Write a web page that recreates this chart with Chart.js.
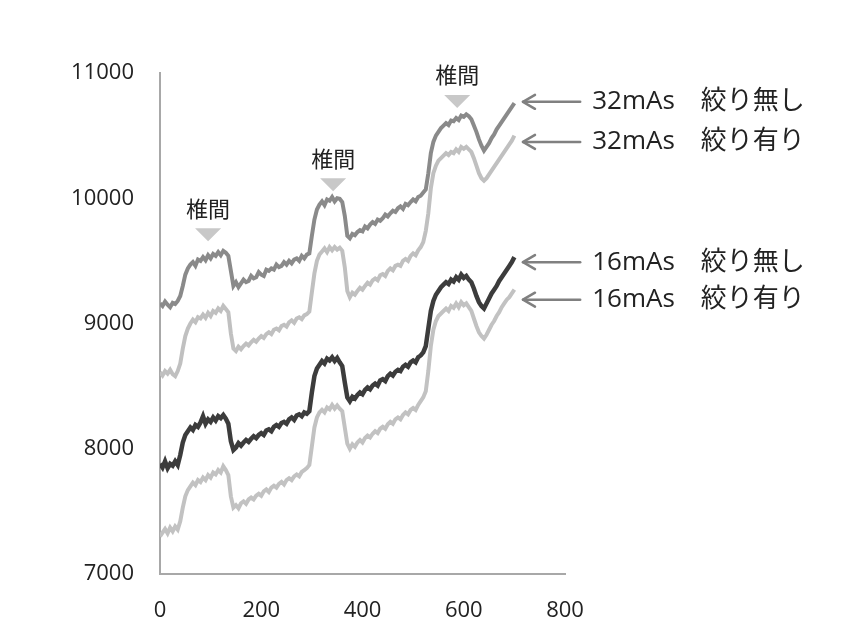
<!DOCTYPE html>
<html><head><meta charset="utf-8">
<script src="https://cdn.jsdelivr.net/npm/chart.js@4.4.0/dist/chart.umd.min.js"></script>
<style>html,body{margin:0;padding:0;background:#fff;}#wrap{width:848px;height:622px;}</style>
</head><body><div id="wrap"><canvas id="c" width="848" height="622"></canvas></div>
<script>
const xStart = 0, xStep = 5;
const s32open = [9160,9140,9175,9150,9130,9165,9155,9180,9220, 9300,9390,9440,9470,9490, 9460,9510,9500,9530,9505,9545,9520,9555,9540,9570,9545,9580,9565,9540, 9420,9300, 9330,9290,9320,9350,9330,9340,9380,9360,9370,9410,9390,9380,9430,9420,9440,9430,9470,9450,9460,9490,9470,9500,9480,9510,9520,9500,9540,9520,9550,9560, 9700,9830,9910,9950,9975,9945,9990,9980,10010,9975,10000,9995,9970, 9860,9700, 9680,9715,9705,9730,9745,9735,9775,9760,9790,9810,9795,9830,9820,9840,9870,9855,9880,9900,9890,9920,9935,9915,9955,9945,9970,9990,9975,10010,10020,10045,10070, 10200,10360,10450,10500,10530,10560,10580, 10600,10585,10620,10615,10640,10625,10660,10650,10670,10655,10630, 10580,10530,10470,10420,10380, 10410,10440,10480,10510,10550,10580,10610,10640,10670,10700,10730,10760];
const s32coll = [8610,8585,8620,8600,8630,8595,8580,8620,8680, 8800,8900,8960,9000,9030, 9010,9050,9040,9070,9045,9085,9060,9100,9085,9120,9100,9140,9115,9090, 8920,8800, 8780,8815,8795,8820,8840,8825,8850,8870,8855,8880,8900,8885,8915,8930,8915,8950,8960,8945,8980,8990,8975,9010,9025,9005,9040,9050,9035,9065,9075,9095, 9250,9400,9500,9550,9575,9600,9570,9610,9585,9610,9590,9605,9580, 9450,9260, 9210,9245,9230,9260,9285,9270,9300,9325,9310,9345,9360,9345,9385,9395,9380,9420,9440,9425,9460,9470,9460,9500,9515,9500,9540,9560,9545,9585,9610,9650,9740, 9880,10080,10200,10260,10300,10320,10340, 10360,10345,10370,10360,10390,10370,10410,10395,10410,10390,10370, 10320,10260,10200,10160,10140, 10160,10190,10220,10250,10280,10310,10340,10370,10400,10430,10460,10500];
const s16open = [7880,7850,7900,7845,7880,7865,7900,7870,7950, 8050,8110,8140,8170,8150, 8190,8175,8210,8260,8200,8235,8215,8250,8225,8260,8245,8270,8240,8200, 8060,7990, 8010,8045,8025,8050,8070,8055,8080,8100,8085,8110,8125,8110,8145,8155,8140,8175,8190,8175,8205,8215,8200,8235,8250,8230,8265,8275,8260,8290,8280,8300, 8450,8580,8640,8670,8700,8680,8720,8705,8730,8700,8725,8690,8660, 8530,8410, 8380,8415,8400,8430,8450,8435,8470,8490,8475,8505,8520,8505,8545,8555,8540,8580,8600,8585,8615,8630,8620,8655,8670,8655,8690,8705,8690,8730,8745,8770,8820, 8960,9100,9180,9230,9260,9290,9310, 9330,9315,9350,9335,9370,9350,9390,9365,9380,9350,9330, 9280,9220,9170,9140,9120, 9160,9200,9240,9270,9300,9340,9370,9400,9430,9460,9490,9530];
const s16coll = [7300,7330,7360,7325,7370,7340,7380,7355,7420, 7530,7620,7670,7700,7730, 7710,7750,7735,7770,7750,7790,7770,7810,7795,7830,7810,7860,7830,7790, 7620,7530, 7550,7525,7565,7580,7560,7595,7610,7595,7625,7640,7625,7660,7675,7655,7690,7705,7690,7720,7735,7715,7750,7765,7750,7780,7795,7780,7815,7830,7845,7870, 8020,8170,8250,8290,8310,8290,8330,8315,8350,8320,8345,8320,8300, 8170,8040, 8000,8035,8015,8050,8070,8050,8085,8105,8090,8120,8140,8125,8160,8175,8160,8195,8215,8200,8235,8250,8235,8270,8290,8275,8310,8325,8310,8350,8380,8410,8460, 8620,8820,8950,9020,9060,9080,9100, 9120,9100,9140,9125,9160,9130,9170,9145,9160,9130,9100, 9040,8980,8930,8900,8880, 8910,8950,8990,9020,9060,9090,9130,9160,9190,9210,9240,9270];
const seriesNames = ['32mAs\u3000絞り無し','32mAs\u3000絞り有り','16mAs\u3000絞り無し','16mAs\u3000絞り有り'];
const labelYs = [10770, 10450, 9490, 9190];
const annText = '椎間';
const annX = [95, 342, 587];
const annY = [9760, 10160, 10825];
const xTicks = [0, 200, 400, 600, 800];
const yTicks = [7000, 8000, 9000, 10000, 11000];

function pts(arr){ return arr.map((v,i)=>({x:xStart+i*xStep, y:v})); }

const FONT = '"Open Sans", "Noto Sans CJK JP", sans-serif';

const overlay = {
  id:'overlay',
  afterDatasetsDraw(chart){
    const ctx = chart.ctx, xs = chart.scales.x, ys = chart.scales.y;
    ctx.save();
    annX.forEach((ax,i)=>{
      const px = xs.getPixelForValue(ax), py = ys.getPixelForValue(annY[i]);
      ctx.fillStyle = '#c8c8c8';
      ctx.beginPath();
      ctx.moveTo(px-13, py); ctx.lineTo(px+13, py); ctx.lineTo(px, py+13); ctx.closePath(); ctx.fill();
      ctx.fillStyle = '#222';
      ctx.font = '22px "Noto Sans CJK JP", sans-serif';
      ctx.textAlign = 'center'; ctx.textBaseline = 'middle';
      ctx.fillText(annText, px, py-20);
    });
    const x1 = xs.getPixelForValue(717), x2 = xs.getPixelForValue(830);
    labelYs.forEach((ly,i)=>{
      const py = ys.getPixelForValue(ly);
      ctx.strokeStyle = '#808080'; ctx.lineWidth = 2.5; ctx.lineCap='round'; ctx.lineJoin='round';
      ctx.beginPath(); ctx.moveTo(x1, py); ctx.lineTo(x2, py); ctx.stroke();
      ctx.beginPath(); ctx.moveTo(x1+12, py-7); ctx.lineTo(x1, py); ctx.lineTo(x1+12, py+7); ctx.stroke();
      ctx.fillStyle = '#222';
      ctx.font = '26px ' + FONT;
      ctx.textAlign = 'left'; ctx.textBaseline = 'middle';
      ctx.fillText(seriesNames[i], x2+12, py);
    });
    ctx.restore();
  }
};

new Chart(document.getElementById('c'), {
  type:'line',
  data:{ datasets:[
    {label:seriesNames[0], data:pts(s32open), borderColor:'#8a8a8a', borderWidth:4, order:2},
    {label:seriesNames[1], data:pts(s32coll), borderColor:'#c0c0c0', borderWidth:4, order:3},
    {label:seriesNames[2], data:pts(s16open), borderColor:'#3c3c3c', borderWidth:4.5, order:1},
    {label:seriesNames[3], data:pts(s16coll), borderColor:'#c2c2c2', borderWidth:4, order:4}
  ]},
  options:{
    responsive:false, animation:false,
    elements:{ point:{radius:0}, line:{tension:0} },
    layout:{ padding:{ top:73, right:283, left:0, bottom:0 } },
    plugins:{ legend:{display:false}, tooltip:{enabled:false} },
    scales:{
      x:{ type:'linear', min:0, max:800,
        grid:{display:false, drawTicks:false},
        border:{display:true, color:'#a8a8a8', width:2},
        afterBuildTicks(s){ s.ticks = xTicks.map(v=>({value:v})); },
        afterFit(s){ s.height = 48; },
        ticks:{ padding:24, color:'#222', font:{family:FONT, size:22}, maxRotation:0, autoSkip:false, callback:v=>String(v) }
      },
      y:{ min:7000, max:11000,
        grid:{display:false, drawTicks:false},
        border:{display:true, color:'#a8a8a8', width:2},
        afterBuildTicks(s){ s.ticks = yTicks.map(v=>({value:v})); },
        afterFit(s){ s.width = 160; },
        ticks:{ padding:26, color:'#222', font:{family:FONT, size:22}, callback:v=>String(v) }
      }
    }
  },
  plugins:[overlay]
});
</script></body></html>
